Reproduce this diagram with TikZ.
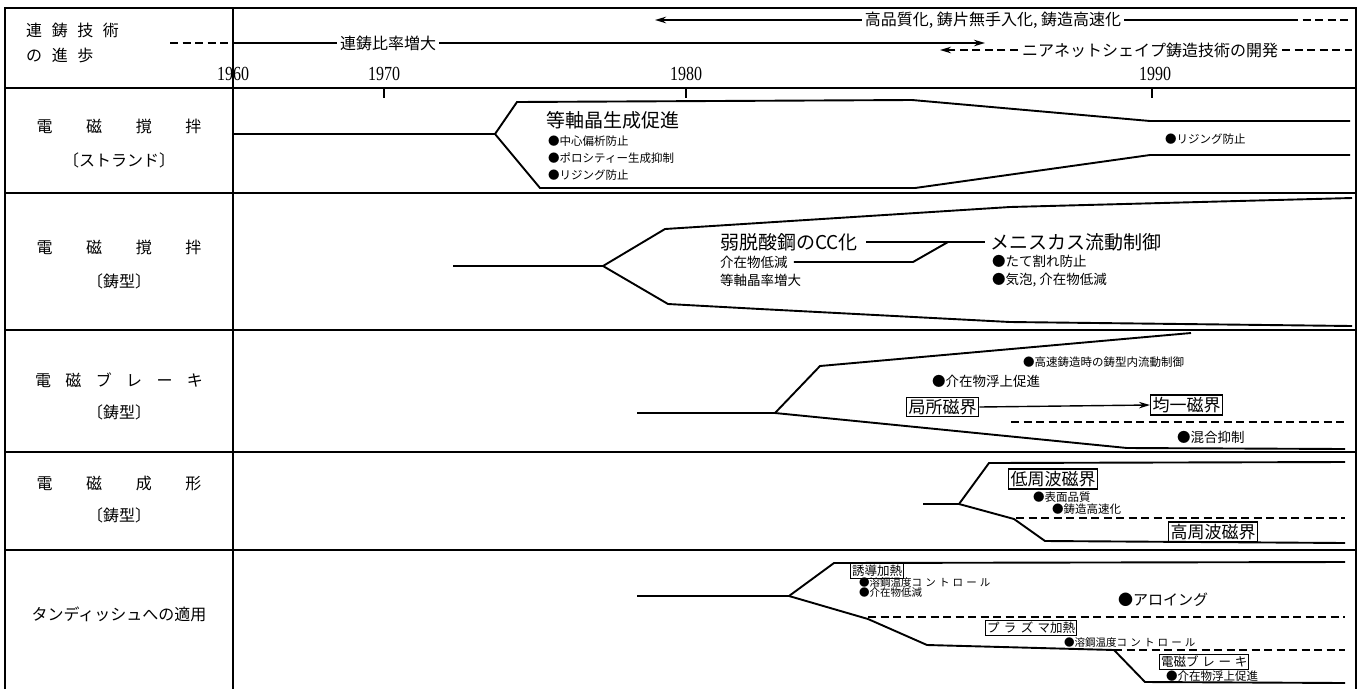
\documentclass[tikz,border=0pt]{standalone}
\usepackage{fontspec}
\setmainfont{Noto Sans CJK JP}
\newfontfamily\yrfont[FakeStretch=0.8]{Liberation Serif}
\usetikzlibrary{arrows.meta}
\begin{document}
\begin{tikzpicture}[x=1pt,y=-1pt,
 frame/.style={line width=1.5pt},
 route/.style={line width=1.9pt, line join=miter},
 dline/.style={line width=1.4pt, dash pattern=on 8pt off 4.5pt},
 big/.style={font=\fontsize{19}{22}\selectfont, inner sep=0pt, anchor=west},
 hdr/.style={font=\fontsize{16}{19}\selectfont, inner sep=1pt},
 sm/.style={font=\fontsize{11.5}{14}\selectfont, inner sep=0pt, anchor=west},
 mid/.style={font=\fontsize{13.5}{16}\selectfont, inner sep=0pt, anchor=west},
 lab/.style={font=\fontsize{16}{19}\selectfont, inner sep=0pt},
 bx/.style={draw, line width=1.3pt, font=\fontsize{17}{20}\selectfont, inner sep=2pt, anchor=west},
 sbx/.style={draw, line width=1.2pt, font=\fontsize{12.5}{15}\selectfont, inner sep=1.5pt, anchor=west},
 yrs/.style={font=\yrfont\fontsize{20}{22}\selectfont, inner sep=0pt},
 tip/.style={-{Stealth[length=11pt,width=6.5pt]}}
]
\useasboundingbox (0,0) rectangle (1362,689);
% frame and grid
\coordinate (fTL) at (5,8); \coordinate (fTR) at (1356,8);
\coordinate (fBL) at (5,689); \coordinate (fBR) at (1356,689);
\draw[frame] (fBL) -- (fTL) -- (fTR) -- (fBR);
\foreach \yy in {88,193,330,452,550} \draw[frame] (5,\yy) -- (1356,\yy);
\coordinate (divT) at (233,8); \coordinate (divB) at (233,689);
\draw[frame] (divT) -- (divB);
\foreach \xx in {384,686,1152} \draw[frame] (\xx,88) -- (\xx,98);

% header
\node[hdr, anchor=west] (h1) at (25,30) {連\hspace{0.6em}鋳\hspace{0.6em}技\hspace{0.6em}術};
\node[hdr, anchor=west] (h2) at (25,55) {の\hspace{0.6em}進\hspace{0.6em}歩};
\coordinate (d0) at (170,43); \coordinate (d1) at (231,43);
\draw[dline] (d0) -- (d1);
\node[hdr, inner sep=3pt] (ren) at (388,43) {連鋳比率増大};
\coordinate (renA) at (233,43); \coordinate (renB) at (985,43);
\draw[route] (renA) -- (ren.west);
\draw[route,tip] (ren.east) -- (renB);
\node[hdr, inner sep=3pt] (qual) at (993,20) {高品質化, 鋳片無手入化, 鋳造高速化};
\coordinate (qualA) at (655,20); \coordinate (qualB) at (1290,20); \coordinate (qualC) at (1352,20);
\draw[route,tip] (qual.west) -- (qualA);
\draw[route] (qual.east) -- (qualB);
\draw[dline] (qualB) -- (qualC);
\node[hdr, inner sep=4pt] (near) at (1150,50) {ニアネットシェイプ鋳造技術の開発};
\coordinate (nearA) at (940,50); \coordinate (nearB) at (1352,50);
\draw[dline,tip] (near.west) -- (nearA);
\draw[dline] (near.east) -- (nearB);
\node[yrs] (y60) at (233,74) {1960};
\node[yrs] (y70) at (384,74) {1970};
\node[yrs] (y80) at (686,74) {1980};
\node[yrs] (y90) at (1155,74) {1990};

% row labels
\node[lab] (l1a) at (119,126) {電\hspace{2.1em}磁\hspace{2.1em}撹\hspace{2.1em}拌};
\node[lab] (l1b) at (119,160) {〔ストランド〕};
\node[lab] (l2a) at (119,247) {電\hspace{2.1em}磁\hspace{2.1em}撹\hspace{2.1em}拌};
\node[lab] (l2b) at (119,281) {〔鋳型〕};
\node[lab] (l3a) at (119,380) {電\hspace{0.9em}磁\hspace{0.9em}ブ\hspace{0.9em}レ\hspace{0.9em}ー\hspace{0.9em}キ};
\node[lab] (l3b) at (119,412) {〔鋳型〕};
\node[lab] (l4a) at (119,483) {電\hspace{2.1em}磁\hspace{2.1em}成\hspace{2.1em}形};
\node[lab] (l4b) at (119,515) {〔鋳型〕};
\node[lab] (l5a) at (119,614) {タンディッシュへの適用};

% row 1
\coordinate (a0) at (233,134); \coordinate (af) at (495,134);
\coordinate (au1) at (517,102); \coordinate (au2) at (912,100); \coordinate (au3) at (1150,121); \coordinate (au4) at (1350,121);
\coordinate (al1) at (540,188); \coordinate (al2) at (915,188); \coordinate (al3) at (1150,155); \coordinate (al4) at (1350,155);
\draw[route] (a0) -- (af) -- (au1) -- (au2) -- (au3) -- (au4);
\draw[route] (af) -- (al1) -- (al2) -- (al3) -- (al4);
\node[big] (t1) at (546,120) {等軸晶生成促進};
\node[sm] (t1a) at (548,141) {●中心偏析防止};
\node[sm] (t1b) at (548,158) {●ポロシティー生成抑制};
\node[sm] (t1c) at (548,175) {●リジング防止};
\node[sm] (t1d) at (1165,139) {●リジング防止};

% row 2
\coordinate (b0) at (453,266); \coordinate (bf) at (603,266);
\coordinate (bu1) at (665,229); \coordinate (bu2) at (1010,207); \coordinate (bu3) at (1352,198);
\coordinate (bl1) at (668,304); \coordinate (bl2) at (760,309); \coordinate (bl3) at (1010,322); \coordinate (bl4) at (1352,326);
\draw[route] (b0) -- (bf) -- (bu1) -- (bu2) -- (bu3);
\draw[route] (bf) -- (bl1) -- (bl2) -- (bl3) -- (bl4);
\node[big] (w1) at (720,242) {弱脱酸鋼のCC化};
\node[mid] (w2) at (720,262) {介在物低減};
\node[mid] (w3) at (720,280) {等軸晶率増大};
\node[big] (m1) at (990,242) {メニスカス流動制御};
\node[mid] (m2) at (992,261) {●たて割れ防止};
\node[mid] (m3) at (992,280) {●気泡, 介在物低減};
\coordinate (wj) at (948,242); \coordinate (wk) at (913,262);
\draw[route] ([xshift=8pt]w1.east) -- ([xshift=-5pt]m1.west);
\draw[route] ([xshift=6pt]w2.east) -- (wk) -- (wj);

% row 3
\coordinate (c0) at (637,413); \coordinate (cf) at (775,413);
\coordinate (cu1) at (820,366); \coordinate (cu2) at (1191,333);
\coordinate (cl1) at (1127,448); \coordinate (cl2) at (1345,449);
\draw[route] (c0) -- (cf) -- (cu1) -- (cu2);
\draw[route] (cf) -- (cl1) -- (cl2);
\node[sm] (e1) at (1023,362) {●高速鋳造時の鋳型内流動制御};
\node[mid] (e2) at (932,381) {●介在物浮上促進};
\node[bx] (k1) at (906,407) {局所磁界};
\node[bx] (k2) at (1150,405) {均一磁界};
\draw[line width=1.4pt,tip] (k1.east) -- (k2.west);
\coordinate (cd0) at (1011,422); \coordinate (cd1) at (1345,422);
\draw[dline] (cd0) -- (cd1);
\node[mid] (e3) at (1177,437) {●混合抑制};

% row 4
\coordinate (g0) at (923,504); \coordinate (gf) at (959,504);
\coordinate (gu1) at (989,463); \coordinate (gu2) at (1345,462);
\coordinate (gl1) at (1014,519); \coordinate (gl2) at (1045,541); \coordinate (gl3) at (1345,543);
\draw[route] (g0) -- (gf) -- (gu1) -- (gu2);
\draw[route] (gf) -- (gl1) -- (gl2) -- (gl3);
\node[bx] (p1) at (1008,479) {低周波磁界};
\node[sm] (p2) at (1033,497) {●表面品質};
\node[sm] (p3) at (1052,509) {●鋳造高速化};
\coordinate (gd0) at (1016,518); \coordinate (gd1) at (1345,518);
\draw[dline] (gd0) -- (gd1);
\node[bx] (p4) at (1168,532) {高周波磁界};

% row 5
\coordinate (h0) at (637,596); \coordinate (hf) at (789,596);
\coordinate (hu1) at (834,563); \coordinate (hu2) at (1345,562);
\coordinate (hl1) at (868,619); \coordinate (hl2) at (927,645); \coordinate (hl3) at (1114,650);
\coordinate (hl4) at (1145,682); \coordinate (hl5) at (1345,683);
\draw[route] (h0) -- (hf) -- (hu1) -- (hu2);
\draw[route] (hf) -- (hl1) -- (hl2) -- (hl3) -- (hl4) -- (hl5);
\node[sbx] (s1) at (850,571) {誘導加熱};
\node[sm, font=\fontsize{10.5}{12}\selectfont] (s2) at (859,583) {●溶鋼温度コ\hspace{0.3em}ン\hspace{0.3em}ト\hspace{0.3em}ロ\hspace{0.3em}ー\hspace{0.3em}ル};
\node[sm, font=\fontsize{10.5}{12}\selectfont] (s3) at (859,593) {●介在物低減};
\node[mid, font=\fontsize{15}{17}\selectfont] (s4) at (1118,600) {●アロイング};
\coordinate (hd0) at (868,617); \coordinate (hd1) at (1345,617);
\draw[dline] (hd0) -- (hd1);
\node[sbx] (s5) at (985,628) {プ\hspace{0.35em}ラ\hspace{0.35em}ズ\hspace{0.35em}マ加熱};
\node[sm, font=\fontsize{10.5}{12}\selectfont] (s6) at (1064,643) {●溶鋼温度コ\hspace{0.3em}ン\hspace{0.3em}ト\hspace{0.3em}ロ\hspace{0.3em}ー\hspace{0.3em}ル};
\coordinate (hd2) at (1114,650); \coordinate (hd3) at (1345,650);
\draw[dline] (hd2) -- (hd3);
\node[sbx] (s7) at (1159,662) {電磁ブ\hspace{0.3em}レ\hspace{0.3em}ー\hspace{0.3em}キ};
\node[sm] (s8) at (1166,676) {●介在物浮上促進};
\end{tikzpicture}
\end{document}
